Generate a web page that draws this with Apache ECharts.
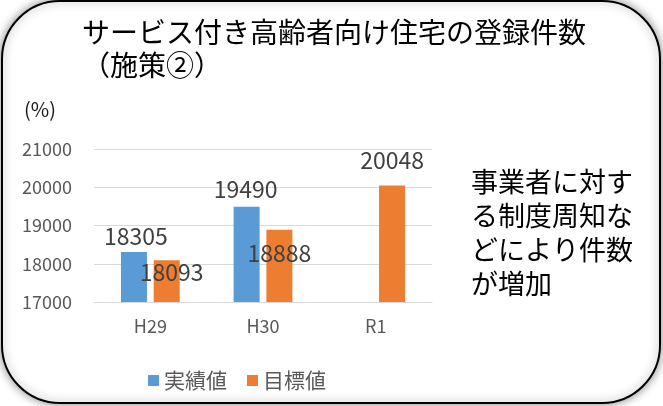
<!DOCTYPE html>
<html>
<head>
<meta charset="utf-8">
<script src="https://cdn.jsdelivr.net/npm/echarts@6/dist/echarts.min.js"></script>
<style>
html, body { margin: 0; padding: 0; background: #fff; }
#main { width: 663px; height: 406px; }
</style>
</head>
<body>
<div id="main"></div>
<script>
/* データ */
const years = ['H29', 'H30', 'R1'];
const actual = [18305, 19490, null];   // 実績値
const target = [18093, 18888, 20048];  // 目標値
const yTicks = [17000, 18000, 19000, 20000, 21000];

/* ラベルの位置ずらし（元の図に合わせる） */
const actualShift = [[2, -4], [-1, -6], [0, 0]];
const targetShift = [[5, 24], [0, 35], [0, -14]];

const font = '"Noto Sans CJK JP", "Noto Sans", sans-serif';

function withLabels(values, shift) {
  return values.map((v, i) => v == null ? null : {
    value: v,
    label: { offset: shift[i] }
  });
}

var myChart = echarts.init(document.getElementById('main'));
option = {
  backgroundColor: '#fff',
  textStyle: { fontFamily: font },
  animation: false,
  graphic: [
    {
      type: 'rect', z: -10,
      shape: { x: 2, y: 1, width: 658, height: 402, r: 58 },
      style: {
        fill: '#fff', stroke: '#000', lineWidth: 2,
        shadowBlur: 10, shadowColor: 'rgba(0,0,0,0.45)'
      }
    },
    {
      type: 'text', left: 82, top: 16,
      style: {
        text: 'サービス付き高齢者向け住宅の登録件数\n（施策②）',
        font: '28px ' + font, lineHeight: 33, fill: '#000'
      }
    },
    {
      type: 'text', left: 24, top: 99,
      style: { text: '(%)', font: '20px ' + font, fill: '#1a1a1a' }
    },
    {
      type: 'text', left: 471, top: 165,
      style: {
        text: '事業者に対す\nる制度周知な\nどにより件数\nが増加',
        font: '27px ' + font, lineHeight: 34, fill: '#000'
      }
    }
  ],
  legend: {
    left: 143, top: 365,
    icon: 'rect', itemWidth: 11, itemHeight: 11, itemGap: 20,
    textStyle: { fontSize: 21, color: '#595959', fontFamily: font },
    data: ['実績値', '目標値']
  },
  grid: { left: 94, right: 231, top: 149, bottom: 104, containLabel: false },
  xAxis: {
    type: 'category',
    data: years,
    axisLine: { lineStyle: { color: '#d9d9d9' } },
    axisTick: { show: false },
    axisLabel: { fontSize: 18, color: '#595959', margin: 15 }
  },
  yAxis: {
    type: 'value',
    min: yTicks[0], max: yTicks[yTicks.length - 1], interval: 1000,
    axisLine: { show: false },
    axisTick: { show: false },
    axisLabel: { fontSize: 18, color: '#595959', margin: 22, formatter: v => String(v) },
    splitLine: { lineStyle: { color: '#d9d9d9' } }
  },
  series: [
    {
      name: '実績値', type: 'bar',
      data: withLabels(actual, actualShift),
      barWidth: 26, barGap: '26%',
      itemStyle: { color: '#5b9bd5' },
      label: { show: true, position: 'top', distance: 0, fontSize: 23, color: '#404040' }
    },
    {
      name: '目標値', type: 'bar',
      data: withLabels(target, targetShift),
      barWidth: 26,
      itemStyle: { color: '#ed7d31' },
      label: { show: true, position: 'top', distance: 0, fontSize: 23, color: '#404040' }
    }
  ]
};
myChart.setOption(option);
</script>
</body>
</html>
